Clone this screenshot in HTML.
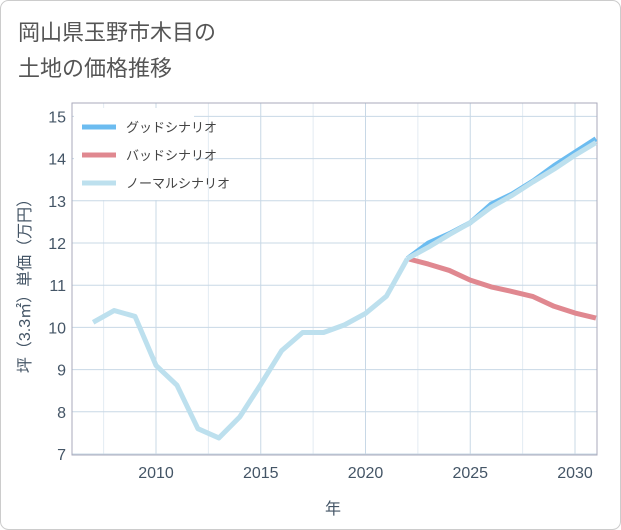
<!DOCTYPE html>
<html><head><meta charset="utf-8"><style>
body{margin:0;background:#fff;}
svg{display:block;font-family:"Liberation Sans","Noto Sans CJK JP",sans-serif;}
</style></head><body>
<svg width="621" height="530">
<rect x="0.5" y="0.5" width="620" height="529" rx="8" fill="#fff" stroke="#ccc"/>
<text x="18" y="40" font-size="22" fill="#555">岡山県玉野市木目の</text>
<text x="18" y="76" font-size="22" fill="#555">土地の価格推移</text>
<g id="grid"></g>
<rect x="72" y="103" width="525" height="352" fill="none" stroke="#aab"/>
<g id="ticks"></g>
<g id="series"></g>
<g>
<rect x="74" y="108" width="120" height="92" fill="#fff"/>
<g><line x1="82" y1="127" x2="116" y2="127" stroke="#6cbcf0" stroke-width="5"/><text x="126" y="132" font-size="13" fill="#444">グッドシナリオ</text></g>
<g><line x1="82" y1="155" x2="116" y2="155" stroke="#e08890" stroke-width="5"/><text x="126" y="160" font-size="13" fill="#444">バッドシナリオ</text></g>
<g><line x1="82" y1="183" x2="116" y2="183" stroke="#bde0ee" stroke-width="5"/><text x="126" y="188" font-size="13" fill="#444">ノーマルシナリオ</text></g>
</g>
<text transform="translate(30,282) rotate(-90)" text-anchor="middle" font-size="16" fill="#456">坪（3.3㎡）単価（万円）</text>
<text x="333" y="514" text-anchor="middle" font-size="16" fill="#456">年</text>
</svg>
<script>
const histYears=[2007,2008,2009,2010,2011,2012,2013,2014,2015,2016,2017,2018,2019,2020,2021,2022];
const histValues=[10.12,10.4,10.26,9.1,8.63,7.6,7.38,7.88,8.65,9.45,9.88,9.88,10.06,10.33,10.74,11.63];
const futYears=[2022,2023,2024,2025,2026,2027,2028,2029,2030,2031];
const goodValues=[11.63,12.0,12.22,12.48,12.92,13.16,13.47,13.83,14.15,14.47];
const badValues=[11.63,11.5,11.35,11.12,10.96,10.85,10.73,10.5,10.34,10.22];
const normalValues=[11.63,11.9,12.2,12.48,12.85,13.13,13.45,13.75,14.08,14.38];
const xTicks=[2010,2015,2020,2025,2030];
const yTicks=[7,8,9,10,11,12,13,14,15];
const NS='http://www.w3.org/2000/svg';
const X=y=>156+(y-2010)*20.95;
const Y=v=>454-(v-7)*42.2;
function mk(t,a,p){const e=document.createElementNS(NS,t);for(const k in a)e.setAttribute(k,a[k]);p.appendChild(e);return e;}
const grid=document.getElementById('grid'),ticks=document.getElementById('ticks'),ser=document.getElementById('series');
for(let y=2007.5;y<2031;y+=5){const l=mk('line',{x1:X(y),x2:X(y),y1:103,y2:455,stroke:'#e3ebf2'},grid);

}
xTicks.forEach(t=>{const l=mk('line',{x1:X(t),x2:X(t),y1:103,y2:455,stroke:'#c8d8e6'},grid);


const tx=mk('text',{x:X(t),y:478,'text-anchor':'middle','font-size':16,fill:'#456'},ticks);tx.textContent=t;

});
yTicks.forEach(t=>{const l=mk('line',{x1:72,x2:597,y1:Y(t),y2:Y(t),stroke:'#c8d8e6'},grid);


const tx=mk('text',{x:66,y:Y(t)+6,'text-anchor':'end','font-size':16,fill:'#456'},ticks);tx.textContent=t;

});
function line(xs,vs,c,name){const p=mk('polyline',{points:xs.map((x,i)=>X(x)+','+Y(vs[i])).join(' '),fill:'none',stroke:c,'stroke-width':5,'stroke-linejoin':'round'},ser);

}
line(futYears,goodValues,'#6cbcf0','good-scenario-line');
line(futYears,badValues,'#e08890','bad-scenario-line');
line(futYears,normalValues,'#bde0ee','normal-scenario-line');
line(histYears,histValues,'#bde0ee','historical-line');
</script>
</body></html>
